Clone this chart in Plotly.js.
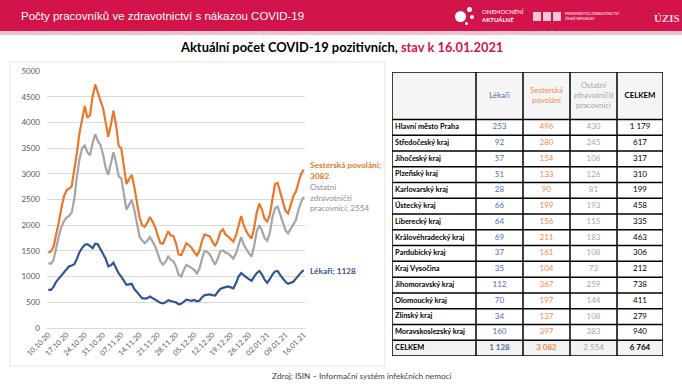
<!DOCTYPE html>
<html><head><meta charset="utf-8">
<script src="https://cdn.plot.ly/plotly-3.0.1.min.js"></script>
<style>html,body{margin:0;padding:0;background:#fff}#c{width:682px;height:384px}</style>
</head><body><div id="c"></div>
<script>
// ---- data ----
var startDate = '2020-10-10';
var tickLabels = ['10.10.20','17.10.20','24.10.20','31.10.20','07.11.20','14.11.20','21.11.20','28.11.20','05.12.20','12.12.20','19.12.20','26.12.20','02.01.21','09.01.21','16.01.21'];
var sestry = [1465,1490,1580,1800,2050,2330,2560,2680,2710,2760,3050,3420,3800,4100,4320,4090,4140,4500,4740,4580,4450,4280,4000,3720,3950,4230,3950,3540,3500,3100,2800,2900,2980,2750,2400,2150,2000,1970,2050,2160,2070,1960,1800,1650,1640,1750,1880,1800,1790,1650,1430,1420,1550,1650,1610,1560,1480,1410,1500,1700,1820,1800,1780,1680,1590,1700,1870,1920,1820,1780,1720,1680,1800,2000,2180,2000,1880,1800,1740,1950,2250,2420,2300,2120,2070,2200,2550,2800,2820,2650,2450,2280,2230,2400,2560,2650,2850,3000,3082];
var ostatni = [1260,1250,1320,1560,1780,1960,2080,2150,2180,2250,2520,2950,3300,3500,3550,3420,3360,3600,3770,3640,3560,3380,3120,2980,3200,3420,3220,2950,2910,2600,2300,2400,2490,2300,2050,1780,1700,1650,1700,1770,1680,1590,1450,1300,1230,1290,1390,1330,1300,1200,1040,1000,1130,1230,1200,1160,1130,1060,1150,1350,1500,1480,1430,1330,1230,1350,1490,1510,1470,1450,1390,1350,1450,1620,1770,1620,1520,1450,1390,1600,1880,2000,1900,1750,1700,1850,2150,2330,2360,2200,2050,1900,1840,1920,2000,2100,2300,2450,2554];
var lekari = [740,740,800,900,960,1020,1080,1160,1200,1215,1240,1350,1480,1560,1620,1630,1600,1550,1640,1630,1530,1420,1350,1200,1220,1270,1150,1060,1000,930,840,850,860,760,700,640,580,570,580,610,580,550,530,490,480,500,540,520,510,500,460,470,510,550,540,530,545,520,530,600,640,650,655,640,630,700,760,780,790,810,790,770,870,1000,1070,1020,985,950,920,1000,1070,1110,1040,940,880,950,1040,1100,1110,1030,960,900,860,880,900,960,1030,1080,1128];

var regions = ['Hlavní město Praha','Středočeský kraj','Jihočeský kraj','Plzeňský kraj','Karlovarský kraj','Ústecký kraj','Liberecký kraj','Královéhradecký kraj','Pardubický kraj','Kraj Vysočina','Jihomoravský kraj','Olomoucký kraj','Zlínský kraj','Moravskoslezský kraj'];
var tLekari = [253,92,57,51,28,66,64,69,37,35,112,70,34,160];
var tSestry = [496,280,154,133,90,199,156,211,161,104,367,197,137,397];
var tOstatni = [430,245,106,126,81,193,115,183,108,73,259,144,108,383];
var tCelkem = [1179,617,317,310,199,458,335,463,306,212,738,411,279,940];
var totalLabel = 'CELKEM';
var totals = [1128, 3082, 2554, 6764];
var headers = ['', 'Lékaři', 'Sesterská<br>povolání', 'Ostatní<br>zdravotničtí<br>pracovníci', '<b>CELKEM</b>'];

// ---- helpers ----
var W=682,H=384;
function px(x){return x/W;}
function py(y){return 1-y/H;}
function addDays(s,n){var d=new Date(s+'T00:00:00Z');d.setUTCDate(d.getUTCDate()+n);return d.toISOString().slice(0,10);}
function fmt(n){return String(n).replace(/\B(?=(\d{3})+(?!\d))/g,'\u00A0');}
var dates = sestry.map(function(_,i){return addDays(startDate,i);});
var tickVals = tickLabels.map(function(_,i){return addDays(startDate,i*7);});

var cBlue='#2F5597', cOrange='#E8782A', cGray='#A5A5A5';
var tBlue='#4A6FB5', tOrange='#EE8B4A', tGray='#A6A6A6';
var F='Lato, "Open Sans", sans-serif';
var RED='#D2144A';

var traces = [
 {x:dates,y:lekari,type:'scatter',mode:'lines',line:{color:cBlue,width:2.2},hoverinfo:'skip'},
 {x:dates,y:ostatni,type:'scatter',mode:'lines',line:{color:cGray,width:2.2},hoverinfo:'skip'},
 {x:dates,y:sestry,type:'scatter',mode:'lines',line:{color:cOrange,width:2.2},hoverinfo:'skip'}
];

// ---- table drawn on its own axes (x2/y2), units = table pixels ----
var colB = [0, 84, 131, 178, 225, 271];
var headH = 47.5, rowH = 15.8;
var nRows = regions.length + 1;
var tblH = headH + nRows*rowH;
function rowY(r){return headH + (r+0.5)*rowH;}
function colX(c){return (colB[c]+colB[c+1])/2;}
var rowsY = []; for (var r=0;r<nRows;r++) rowsY.push(rowY(r));
var allRows = regions.concat([totalLabel]);

function textTrace(xs, ys, texts, color, size, pos){
 return {type:'scatter',mode:'text',xaxis:'x2',yaxis:'y2',x:xs,y:ys,text:texts,textposition:pos||'middle center',
  textfont:{family:F,size:size,color:color},hoverinfo:'skip',cliponaxis:false,showlegend:false};
}
function fill(n,v){var a=[];for(var i=0;i<n;i++)a.push(v);return a;}
// names
traces.push(textTrace(fill(nRows,3), rowsY, allRows.map(function(s){return '<b>'+s+'</b>';}), '#000', 7.4, 'middle right'));
// number columns
var numCols = [
 {vals:tLekari, tot:totals[0], color:tBlue, bold:true},
 {vals:tSestry, tot:totals[1], color:tOrange, bold:true},
 {vals:tOstatni, tot:totals[2], color:tGray, bold:false},
 {vals:tCelkem, tot:totals[3], color:'#000', bold:true}
];
numCols.forEach(function(col, ci){
 var t = col.vals.map(fmt).concat([col.bold ? '<b>'+fmt(col.tot)+'</b>' : fmt(col.tot)]);
 var x = colX(ci+1);
 traces.push(textTrace(fill(nRows,x), rowsY, t, col.color, 8, 'middle center'));
});
// header texts
var hColors = ['#000', tBlue, tOrange, tGray, '#000'];
headers.forEach(function(h, ci){
 if(!h) return;
 traces.push(textTrace([colX(ci)],[headH/2],[h],hColors[ci],7.8,'middle center'));
});

var shapes = [
 {type:'rect',xref:'paper',yref:'paper',x0:0,x1:1,y0:py(31),y1:1,fillcolor:RED,line:{width:0},layer:'below'},
 {type:'rect',xref:'paper',yref:'paper',x0:0,x1:1,y0:py(35),y1:py(31),fillcolor:'#EBC3CE',line:{width:0},layer:'below'},
 {type:'rect',xref:'paper',yref:'paper',x0:px(10),x1:px(385),y0:py(366),y1:py(62),fillcolor:'rgba(0,0,0,0)',line:{width:1,color:'#E3E3E3'},layer:'below'},
 // logo dots
 {type:'circle',xref:'paper',yref:'paper',x0:px(455),x1:px(466),y0:py(22),y1:py(11),fillcolor:'#fff',line:{width:0}},
 {type:'circle',xref:'paper',yref:'paper',x0:px(467),x1:px(472),y0:py(12),y1:py(7),fillcolor:'#fff',line:{width:0}},
 {type:'circle',xref:'paper',yref:'paper',x0:px(470),x1:px(474),y0:py(19),y1:py(15),fillcolor:'#fff',line:{width:0}},
 {type:'circle',xref:'paper',yref:'paper',x0:px(465),x1:px(468),y0:py(25),y1:py(22),fillcolor:'#fff',line:{width:0}},
 // MZ logo blocks
 {type:'rect',xref:'paper',yref:'paper',x0:px(533),x1:px(541),y0:py(21),y1:py(12),fillcolor:'#F4C7D3',line:{width:0}},
 {type:'rect',xref:'paper',yref:'paper',x0:px(543),x1:px(551),y0:py(21),y1:py(12),fillcolor:'#F4C7D3',line:{width:0}},
 {type:'rect',xref:'paper',yref:'paper',x0:px(553),x1:px(561),y0:py(21),y1:py(12),fillcolor:'#F4C7D3',line:{width:0}},
 // table fills
 {type:'rect',xref:'x2',yref:'y2',x0:colB[0],x1:colB[colB.length-1],y0:0,y1:headH,fillcolor:'#F5F5F5',line:{width:0},layer:'below'},
 {type:'rect',xref:'x2',yref:'y2',x0:colB[0],x1:colB[colB.length-1],y0:tblH-rowH,y1:tblH,fillcolor:'#F2F2F2',line:{width:0},layer:'below'}
];
// table grid lines
var hLines = [0, headH]; for (var r2=1;r2<=nRows;r2++) hLines.push(headH + r2*rowH);
hLines.forEach(function(y){
 shapes.push({type:'line',xref:'x2',yref:'y2',x0:colB[0],x1:colB[colB.length-1],y0:y,y1:y,line:{color:'#000',width:1.5}});
});
colB.forEach(function(x){
 shapes.push({type:'line',xref:'x2',yref:'y2',x0:x,x1:x,y0:0,y1:tblH,line:{color:'#000',width:1.5}});
});

var annotations = [
 {text:'Počty pracovníků ve zdravotnictví s nákazou COVID-19',xref:'paper',yref:'paper',x:px(19),y:py(16),xanchor:'left',yanchor:'middle',showarrow:false,font:{family:'"Liberation Sans", Arial, sans-serif',size:11.5,color:'#fff'}},
 {text:'ONEMOCNĚNÍ<br><b>AKTUÁLNĚ</b>',xref:'paper',yref:'paper',x:px(479),y:py(16),xanchor:'left',yanchor:'middle',align:'left',showarrow:false,font:{family:F,size:6,color:'#fff'}},
 {text:'MINISTERSTVO ZDRAVOTNICTVÍ<br>ČESKÉ REPUBLIKY',xref:'paper',yref:'paper',x:px(563),y:py(16),xanchor:'left',yanchor:'middle',align:'left',showarrow:false,font:{family:F,size:3.5,color:'#fff'}},
 {text:'<b>ÚZIS</b>',xref:'paper',yref:'paper',x:px(667),y:py(18),xanchor:'center',yanchor:'middle',showarrow:false,font:{family:'"Liberation Serif", serif',size:11,color:'#F4D7DF'}},
 {text:'<b>Aktuální počet COVID-19 pozitivních, <span style="color:'+RED+'">stav k 16.01.2021</span></b>',xref:'paper',yref:'paper',x:px(341),y:py(47),xanchor:'center',yanchor:'middle',showarrow:false,font:{family:F,size:12.9,color:'#000'}},
 {text:'<b>Sesterská povolání;<br>3082</b>',xref:'paper',yref:'paper',x:px(308),y:py(170.5),xanchor:'left',yanchor:'middle',align:'left',showarrow:false,font:{family:F,size:8.3,color:cOrange}},
 {text:'Ostatní<br>zdravotničtí<br>pracovníci; 2554',xref:'paper',yref:'paper',x:px(308),y:py(197),xanchor:'left',yanchor:'middle',align:'left',showarrow:false,font:{family:F,size:8.1,color:'#8C8C8C'}},
 {text:'<b>Lékaři; 1128</b>',xref:'paper',yref:'paper',x:px(308),y:py(270.5),xanchor:'left',yanchor:'middle',align:'left',showarrow:false,font:{family:F,size:8.3,color:cBlue}},
 {text:'Zdroj: ISIN – Informační systém infekčních nemocí',xref:'paper',yref:'paper',x:px(362),y:py(376),xanchor:'center',yanchor:'middle',showarrow:false,font:{family:F,size:8.2,color:'#404040'}}
];

var x0 = new Date(startDate+'T00:00:00Z').getTime()-12*3600e3;
var x1 = new Date(addDays(startDate,sestry.length-1)+'T00:00:00Z').getTime()+12*3600e3;

var layout = {
 width:W,height:H,margin:{l:0,r:0,t:0,b:0},
 paper_bgcolor:'#fff',plot_bgcolor:'rgba(0,0,0,0)',showlegend:false,
 xaxis:{type:'date',domain:[px(47),px(305)],range:[x0,x1],tickmode:'array',tickvals:tickVals,ticktext:tickLabels,tickangle:-45,showgrid:false,zeroline:false,showline:false,ticks:'',tickfont:{family:F,size:7.5,color:'#595959'},fixedrange:true},
 yaxis:{domain:[py(328),py(71)],range:[0,5000],dtick:500,showgrid:true,gridcolor:'#D9D9D9',gridwidth:1,zeroline:true,zerolinecolor:'#D9D9D9',zerolinewidth:1,showline:false,ticks:'',ticklabelstandoff:6,tickfont:{family:F,size:8,color:'#595959'},fixedrange:true},
 xaxis2:{domain:[px(392),px(663)],range:[colB[0],colB[colB.length-1]],visible:false,fixedrange:true,anchor:'y2'},
 yaxis2:{domain:[py(356),py(72)],range:[tblH,0],visible:false,fixedrange:true,anchor:'x2'},
 shapes:shapes,annotations:annotations
};
Plotly.newPlot('c',traces,layout,{staticPlot:true,displayModeBar:false});
</script></body></html>
